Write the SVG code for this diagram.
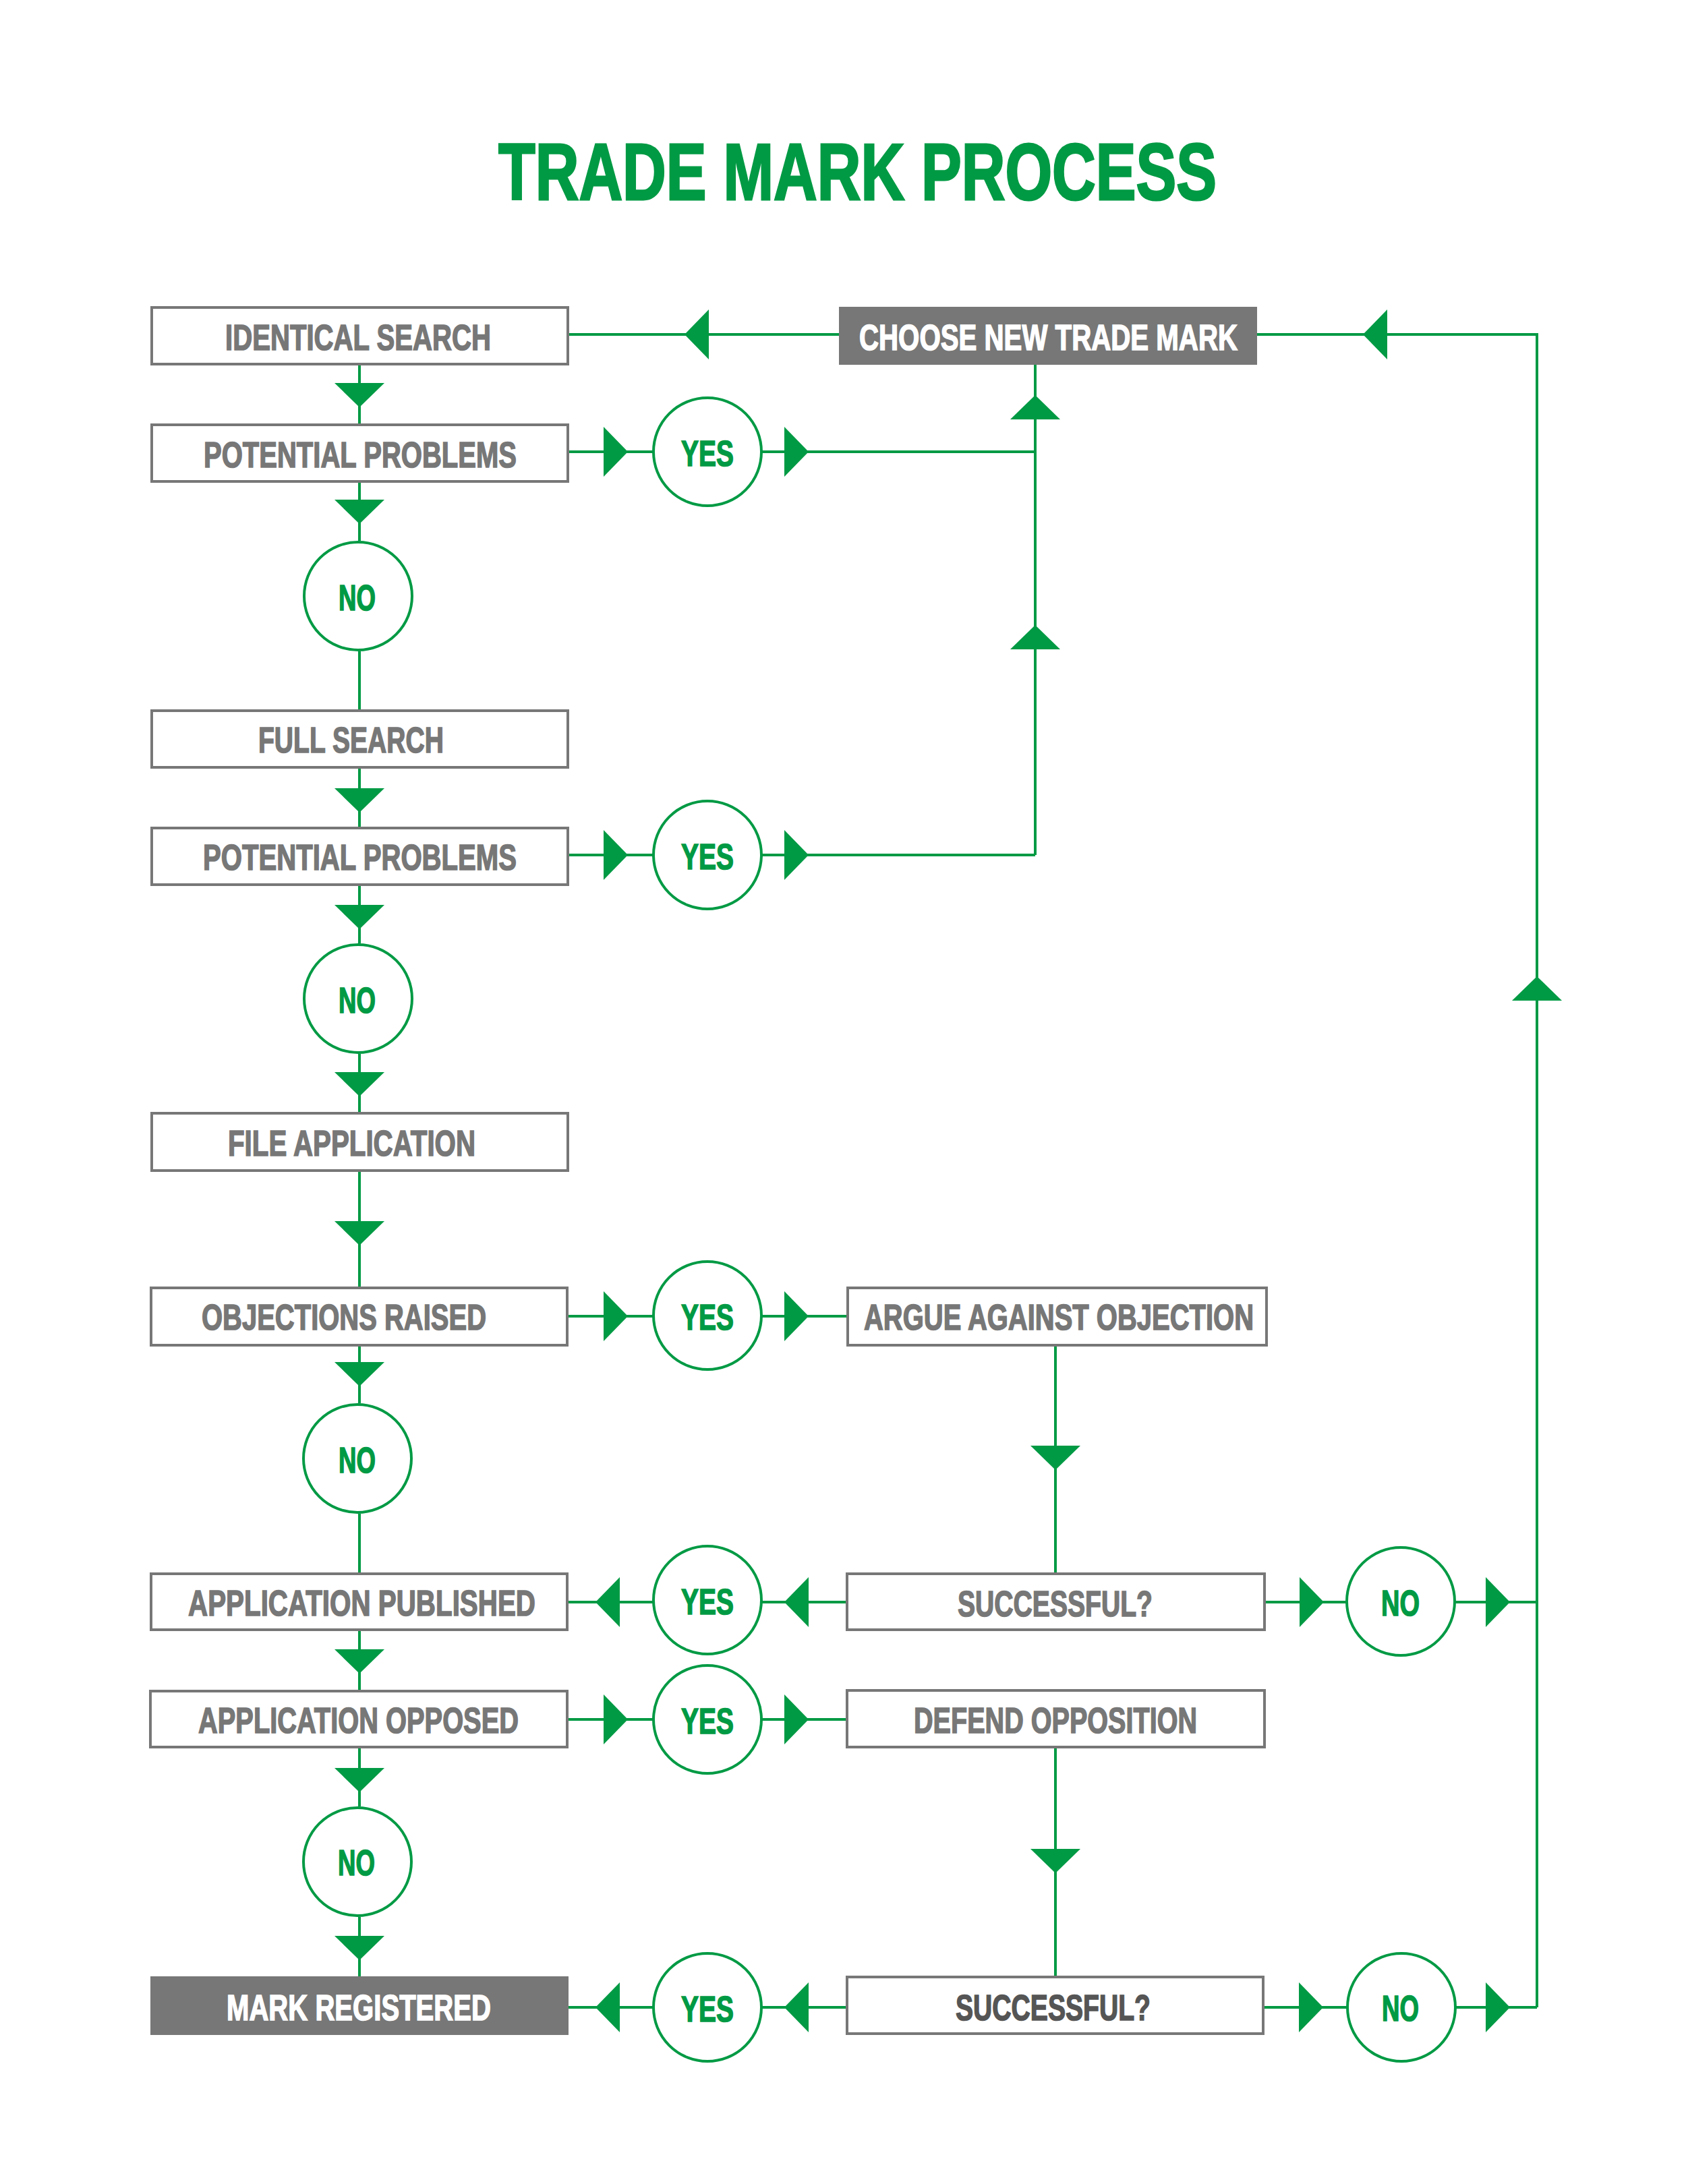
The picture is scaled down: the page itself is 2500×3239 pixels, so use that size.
<svg xmlns="http://www.w3.org/2000/svg" xmlns:xlink="http://www.w3.org/1999/xlink" width="2500" height="3239" viewBox="0 0 2500 3239">
<style>
.bg{fill:#ffffff}
.box{fill:#ffffff;stroke:#777777;stroke-width:4}
.fbox{fill:#777777;stroke:none}
.circ{fill:#ffffff;stroke:#009a44;stroke-width:4}
.ln{fill:none;stroke:#009a44;stroke-width:4}
.ah{fill:#009a44}
.lbl{font-family:"Liberation Sans","Arial",sans-serif;font-weight:bold;font-size:54px;fill:#777777;stroke:#777777;stroke-width:1.6px}
.wt{fill:#ffffff;stroke:#ffffff}
.dk{fill:#555555;stroke:#555555}
.gt{font-family:"Liberation Sans","Arial",sans-serif;font-weight:bold;font-size:54px;fill:#009a44;stroke:#009a44;stroke-width:1.6px}
.title{font-family:"Liberation Sans","Arial",sans-serif;font-weight:bold;font-size:119px;fill:#009a44;stroke:#009a44;stroke-width:3px}
</style>
<defs>
<path id="ad" d="M-37,0 L37,0 L0,36 Z"/>
<path id="au" d="M-37,0 L37,0 L0,-36 Z"/>
<path id="ar" d="M0,-37 L0,37 L36,0 Z"/>
<path id="al" d="M0,-37 L0,37 L-36,0 Z"/>
</defs>
<rect class="bg" x="0" y="0" width="2500" height="3239"/>
<text class="title" x="739" y="296" textLength="1065" lengthAdjust="spacingAndGlyphs">TRADE MARK PROCESS</text>

<g id="connectors">
<path class="ln" d="M533,542 V628 M533,716 V802 M533,966 V1052 M533,1140 V1226 M533,1314 V1399 M533,1563 V1649 M533,1738 V1908 M533,1997 V2081 M533,2245 V2332 M533,2419 V2506 M533,2593 V2679 M533,2843 V2931"/>
<path class="ln" d="M844,496 H1244 M1864,496 H2279 V2977"/>
<path class="ln" d="M844,670 H969 M1129,670 H1535 M1535,541 V1268 M844,1268 H969 M1129,1268 H1535"/>
<path class="ln" d="M843,1952 H969 M1129,1952 H1255 M1565,1997 V2332"/>
<path class="ln" d="M843,2376 H969 M1129,2376 H1255 M1877,2376 H1997 M2157,2376 H2279"/>
<path class="ln" d="M843,2550 H969 M1129,2550 H1255 M1565,2593 V2930"/>
<path class="ln" d="M843,2977 H969 M1129,2977 H1254 M1875,2977 H1997 M2157,2977 H2279"/>
<g class="ah">
<use xlink:href="#ad" x="533" y="568"/>
<use xlink:href="#ad" x="533" y="741"/>
<use xlink:href="#ad" x="533" y="1169"/>
<use xlink:href="#ad" x="533" y="1342"/>
<use xlink:href="#ad" x="533" y="1590"/>
<use xlink:href="#ad" x="533" y="1811"/>
<use xlink:href="#ad" x="533" y="2020"/>
<use xlink:href="#ad" x="533" y="2446"/>
<use xlink:href="#ad" x="533" y="2622"/>
<use xlink:href="#ad" x="533" y="2871"/>
<use xlink:href="#ad" x="1565" y="2144"/>
<use xlink:href="#ad" x="1565" y="2742"/>
<use xlink:href="#au" x="1535" y="622"/>
<use xlink:href="#au" x="1535" y="963"/>
<use xlink:href="#au" x="2279" y="1484"/>
<use xlink:href="#al" x="1051" y="496"/>
<use xlink:href="#al" x="2057" y="496"/>
<use xlink:href="#ar" x="895" y="670"/>
<use xlink:href="#ar" x="1163" y="670"/>
<use xlink:href="#ar" x="895" y="1268"/>
<use xlink:href="#ar" x="1163" y="1268"/>
<use xlink:href="#ar" x="895" y="1952"/>
<use xlink:href="#ar" x="1163" y="1952"/>
<use xlink:href="#ar" x="895" y="2550"/>
<use xlink:href="#ar" x="1163" y="2550"/>
<use xlink:href="#al" x="919" y="2376"/>
<use xlink:href="#al" x="1199" y="2376"/>
<use xlink:href="#ar" x="1927" y="2376"/>
<use xlink:href="#ar" x="2203" y="2376"/>
<use xlink:href="#al" x="919" y="2977"/>
<use xlink:href="#al" x="1199" y="2977"/>
<use xlink:href="#ar" x="1926" y="2977"/>
<use xlink:href="#ar" x="2203" y="2977"/>
</g>
</g>

<g id="n-identical-search"><rect class="box" x="225" y="456" width="617" height="84"/><text class="lbl" x="334" y="519" textLength="394" lengthAdjust="spacingAndGlyphs">IDENTICAL SEARCH</text></g>
<g id="n-choose-new"><rect class="fbox" x="1244" y="455" width="620" height="86"/><text class="lbl wt" x="1274" y="519" textLength="561" lengthAdjust="spacingAndGlyphs">CHOOSE NEW TRADE MARK</text></g>
<g id="n-potential-1"><rect class="box" x="225" y="630" width="617" height="84"/><text class="lbl" x="302" y="693" textLength="464" lengthAdjust="spacingAndGlyphs">POTENTIAL PROBLEMS</text></g>
<g id="n-yes-1"><circle class="circ" cx="1049" cy="670" r="80"/><text class="gt" x="1010" y="691" textLength="78" lengthAdjust="spacingAndGlyphs">YES</text></g>
<g id="n-no-1"><circle class="circ" cx="531" cy="884" r="80"/><text class="gt" x="502" y="905" textLength="55" lengthAdjust="spacingAndGlyphs">NO</text></g>
<g id="n-full-search"><rect class="box" x="225" y="1054" width="617" height="84"/><text class="lbl" x="383" y="1116" textLength="275" lengthAdjust="spacingAndGlyphs">FULL SEARCH</text></g>
<g id="n-potential-2"><rect class="box" x="225" y="1228" width="617" height="84"/><text class="lbl" x="301" y="1290" textLength="465" lengthAdjust="spacingAndGlyphs">POTENTIAL PROBLEMS</text></g>
<g id="n-yes-2"><circle class="circ" cx="1049" cy="1268" r="80"/><text class="gt" x="1010" y="1289" textLength="78" lengthAdjust="spacingAndGlyphs">YES</text></g>
<g id="n-no-2"><circle class="circ" cx="531" cy="1481" r="80"/><text class="gt" x="502" y="1502" textLength="55" lengthAdjust="spacingAndGlyphs">NO</text></g>
<g id="n-file-application"><rect class="box" x="225" y="1651" width="617" height="85"/><text class="lbl" x="338" y="1714" textLength="367" lengthAdjust="spacingAndGlyphs">FILE APPLICATION</text></g>
<g id="n-objections"><rect class="box" x="224" y="1910" width="617" height="85"/><text class="lbl" x="299" y="1972" textLength="422" lengthAdjust="spacingAndGlyphs">OBJECTIONS RAISED</text></g>
<g id="n-yes-3"><circle class="circ" cx="1049" cy="1951" r="80"/><text class="gt" x="1010" y="1972" textLength="78" lengthAdjust="spacingAndGlyphs">YES</text></g>
<g id="n-argue"><rect class="box" x="1257" y="1910" width="621" height="85"/><text class="lbl" x="1281" y="1972" textLength="578" lengthAdjust="spacingAndGlyphs">ARGUE AGAINST OBJECTION</text></g>
<g id="n-no-3"><circle class="circ" cx="530" cy="2163" r="80"/><text class="gt" x="502" y="2184" textLength="55" lengthAdjust="spacingAndGlyphs">NO</text></g>
<g id="n-app-published"><rect class="box" x="224" y="2334" width="617" height="83"/><text class="lbl" x="279" y="2396" textLength="515" lengthAdjust="spacingAndGlyphs">APPLICATION PUBLISHED</text></g>
<g id="n-yes-4"><circle class="circ" cx="1049" cy="2373" r="80"/><text class="gt" x="1010" y="2394" textLength="78" lengthAdjust="spacingAndGlyphs">YES</text></g>
<g id="n-successful-1"><rect class="box" x="1256" y="2334" width="619" height="83"/><text class="lbl" x="1420" y="2397" textLength="289" lengthAdjust="spacingAndGlyphs">SUCCESSFUL?</text></g>
<g id="n-no-5"><circle class="circ" cx="2077" cy="2375" r="80"/><text class="gt" x="2048" y="2396" textLength="57" lengthAdjust="spacingAndGlyphs">NO</text></g>
<g id="n-app-opposed"><rect class="box" x="223" y="2508" width="618" height="83"/><text class="lbl" x="294" y="2570" textLength="475" lengthAdjust="spacingAndGlyphs">APPLICATION OPPOSED</text></g>
<g id="n-yes-5"><circle class="circ" cx="1049" cy="2550" r="80"/><text class="gt" x="1010" y="2571" textLength="78" lengthAdjust="spacingAndGlyphs">YES</text></g>
<g id="n-defend"><rect class="box" x="1256" y="2507" width="619" height="84"/><text class="lbl" x="1355" y="2570" textLength="420" lengthAdjust="spacingAndGlyphs">DEFEND OPPOSITION</text></g>
<g id="n-no-4"><circle class="circ" cx="530" cy="2761" r="80"/><text class="gt" x="501" y="2781" textLength="55" lengthAdjust="spacingAndGlyphs">NO</text></g>
<g id="n-mark-registered"><rect class="fbox" x="223" y="2931" width="620" height="87"/><text class="lbl wt" x="336" y="2996" textLength="392" lengthAdjust="spacingAndGlyphs">MARK REGISTERED</text></g>
<g id="n-yes-6"><circle class="circ" cx="1049" cy="2977" r="80"/><text class="gt" x="1010" y="2998" textLength="78" lengthAdjust="spacingAndGlyphs">YES</text></g>
<g id="n-successful-2"><rect class="box" x="1256" y="2932" width="617" height="84"/><text class="lbl dk" x="1417" y="2996" textLength="289" lengthAdjust="spacingAndGlyphs">SUCCESSFUL?</text></g>
<g id="n-no-6"><circle class="circ" cx="2078" cy="2977" r="80"/><text class="gt" x="2049" y="2997" textLength="55" lengthAdjust="spacingAndGlyphs">NO</text></g>
</svg>
